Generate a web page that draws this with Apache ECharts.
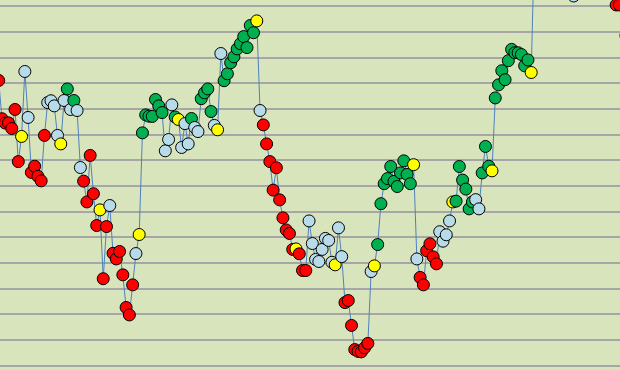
<!DOCTYPE html>
<html>
<head>
<meta charset="utf-8">
<script src="https://cdn.jsdelivr.net/npm/echarts@6/dist/echarts.min.js"></script>
<style>
html,body{margin:0;padding:0;background:#d8e4bc;}
#chart{width:620px;height:370px;}
</style>
</head>
<body>
<div id="chart"></div>
<script>
// Series values (one per period); points beyond the visible frame continue off-canvas
const values = [
  111.0, 96.1, 94.4, 94.5, 92.3, 99.7, 79.4, 89.2, 114.5, 96.6,
  75.2, 77.6, 73.7, 71.9, 89.6, 102.4, 103.1, 101.1, 89.6, 86.3,
  103.2, 107.7, 99.7, 103.2, 99.3, 77.1, 71.8, 63.7, 81.8, 66.9,
  54.5, 60.6, 33.8, 54.1, 62.3, 43.7, 41.5, 44.4, 35.3, 22.6,
  19.7, 31.4, 43.6, 51.0, 90.6, 97.6, 97.1, 97.0, 103.6, 101.1,
  98.5, 83.6, 88.0, 101.5, 96.8, 95.8, 84.9, 94.2, 86.3, 96.2,
  92.7, 91.1, 103.9, 106.2, 107.7, 98.9, 93.5, 91.8, 121.5, 110.9,
  113.6, 117.9, 120.2, 123.3, 125.3, 128.1, 123.8, 132.4, 129.6, 134.2,
  99.3, 93.7, 86.3, 79.4, 68.3, 77.0, 64.5, 57.5, 52.8, 51.4,
  45.2, 45.4, 43.5, 37.0, 37.0, 56.3, 47.5, 41.3, 40.5, 45.2,
  49.5, 48.7, 40.2, 39.2, 53.6, 42.4, 24.5, 25.3, 15.6, 6.2,
  5.5, 5.3, 6.9, 8.6, 36.6, 38.8, 47.1, 63.0, 70.8, 72.8,
  77.5, 71.7, 69.7, 75.0, 79.7, 74.4, 70.8, 78.2, 41.5, 34.3,
  31.4, 44.7, 47.4, 42.3, 39.6, 52.1, 48.4, 50.9, 56.3, 63.7,
  64.0, 77.5, 72.2, 68.7, 61.0, 63.7, 64.6, 61.0, 75.0, 85.3,
  77.6, 75.8, 104.2, 109.3, 114.8, 111.3, 118.7, 123.1, 121.8, 121.8,
  121.1, 116.7, 119.0, 114.1, 165.5, 158.0, 162.0, 170.0, 166.0, 174.0,
  168.0, 160.0, 163.0, 158.0, 154.0, 150.0, 143.9, 152.0, 160.0, 166.0,
  171.0, 164.0, 169.0, 175.0, 178.0, 170.0, 165.0, 160.0, 168.0, 140.4,
  140.4, 146.0, 128.5
];
// Marker class per point: R = red, G = green, B = light blue, Y = yellow
const classes = (
  "RRRRRRRYBB" + "RRRRRBBBBY" + "BGBGBBRRRR" + "RYRRBRRRRR" +
  "RRBYGGGGGG" + "GBBBGYBBBG" + "BBGGGGBYBG" + "GGGGGGGGGY" +
  "BRRRRRRRRR" + "RYRRRBBBBB" + "BBBYBBRRRR" + "RRRRBYGGGG" +
  "GGGGGGGYBR" + "RRRRRBBBBY" + "GGGGGGBBGG" + "GYGGGGGGGG" +
  "GGGYGGGGGG" + "GGGGGGBGGG" + "GGGGGGGGGR" + "RRR"
).split("");
const classColors = { R: "#ff0000", G: "#00b050", B: "#b7dbe8", Y: "#ffff00" };
const yTicks = { min: 0, max: 140, step: 10 };

const chart = echarts.init(document.getElementById("chart"), null, { renderer: "canvas" });
const lineData = values.map((v, i) => [i, v]);
const pointData = values.map((v, i) => ({
  value: [i, v],
  itemStyle: { color: classColors[classes[i]] }
}));

chart.setOption({
  animation: false,
  backgroundColor: "#d8e4bc",
  grid: { left: 0, right: 0, top: 6, bottom: 4.5, containLabel: false },
  xAxis: {
    type: "value", min: 0.398, max: 190.18, show: false,
    splitLine: { show: false }
  },
  yAxis: {
    type: "value", min: yTicks.min, max: yTicks.max, interval: yTicks.step,
    axisLine: { show: false }, axisTick: { show: false }, axisLabel: { show: false },
    splitLine: { show: true, lineStyle: { color: "#a6a6a6", width: 2 } }
  },
  series: [
    {
      type: "line", data: lineData, symbol: "none", clip: false, z: 2,
      lineStyle: { color: "#4f81bd", width: 1 }
    },
    {
      type: "scatter", data: pointData, symbol: "circle", symbolSize: 12, clip: false, z: 3,
      itemStyle: { borderColor: "#000000", borderWidth: 1, opacity: 1 }
    }
  ]
});
</script>
</body>
</html>
